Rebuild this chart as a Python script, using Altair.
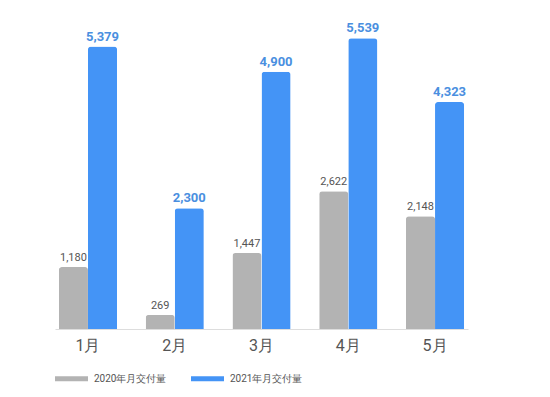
import altair as alt
import pandas as pd

months = ["1月", "2月", "3月", "4月", "5月"]
series = ["2020年月交付量", "2021年月交付量"]
v2020 = [1180, 269, 1447, 2622, 2148]
v2021 = [5379, 2300, 4900, 5539, 4323]

rows = []
for i, m in enumerate(months):
    rows.append({"month": m, "series": series[0], "value": v2020[i]})
    rows.append({"month": m, "series": series[1], "value": v2021[i]})
df = pd.DataFrame(rows)

GRAY = "#b3b3b3"
BLUE = "#4494f6"
FONT = "Roboto"

x = alt.X("month:N", sort=months,
          scale=alt.Scale(paddingInner=0.33, paddingOuter=0.045),
          axis=alt.Axis(title=None, labelAngle=0, labelFontSize=16, labelColor="#555555",
                        labelFont=FONT, labelPadding=8, ticks=False,
                        domainColor="#dddddd", domainWidth=1))
xo = alt.XOffset("series:N", sort=series, scale=alt.Scale(paddingInner=0, paddingOuter=0))
y = alt.Y("value:Q", scale=alt.Scale(domain=[0, 5714], nice=False),
          axis=None)

base = alt.Chart(df).encode(x=x, xOffset=xo, y=y)

bars = base.mark_bar(cornerRadiusTopLeft=3, cornerRadiusTopRight=3).encode(
    color=alt.Color("series:N", sort=series,
                    scale=alt.Scale(domain=series, range=[GRAY, BLUE]),
                    legend=alt.Legend(title=None, orient="none", direction="horizontal",
                                      legendX=0, legendY=333,
                                      symbolType="M-1,-0.15L1,-0.15L1,0.15L-1,0.15Z",
                                      symbolSize=1089, symbolStrokeWidth=0,
                                      labelFontSize=10, labelColor="#555555", labelFont=FONT,
                                      labelOffset=6, columnPadding=24))
)

t2020 = base.transform_filter(alt.datum.series == series[0]).mark_text(
    dy=-9, fontSize=11, color="#555555", font=FONT
).encode(text=alt.Text("value:Q", format=","))

t2021 = base.transform_filter(alt.datum.series == series[1]).mark_text(
    dy=-10, fontSize=13, fontWeight="bold", color="#4a8fe0", font=FONT
).encode(text=alt.Text("value:Q", format=","))

chart = alt.layer(bars, t2020, t2021).properties(
    width=413, height=300,
    background="white",
    padding={"left": 55, "top": 29, "right": 82, "bottom": 68},
    autosize=alt.AutoSizeParams(type="none"),
).configure_view(strokeWidth=0, stroke="transparent")

chart.save("out.html", embed_options={"renderer": "svg", "actions": False})
